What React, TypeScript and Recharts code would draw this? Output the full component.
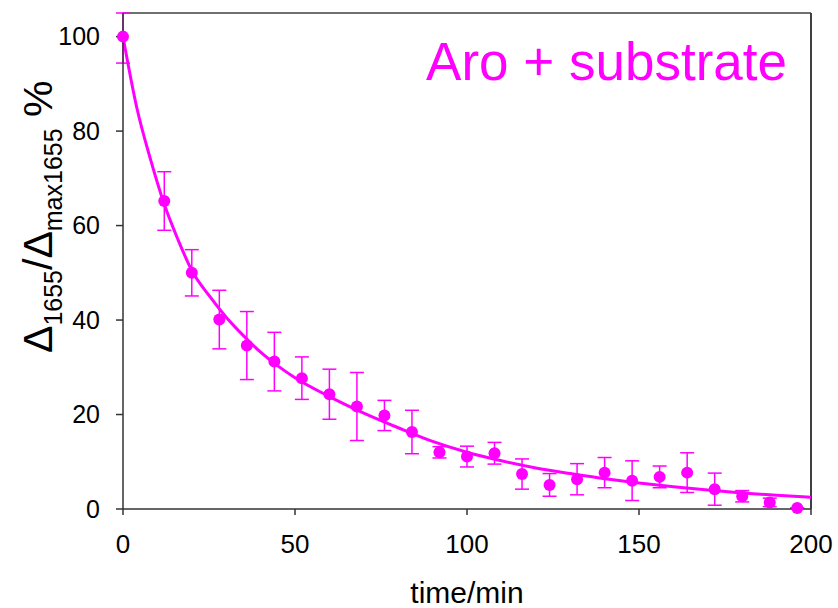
import {
  ComposedChart,
  Line,
  Scatter,
  ErrorBar,
  XAxis,
  YAxis,
  ReferenceLine,
} from "recharts";

// measured points (time in min, signal in %)
const times = [0, 12, 20, 28, 36, 44, 52, 60, 68, 76, 84, 92, 100, 108, 116, 124, 132, 140, 148, 156, 164, 172, 180, 188, 196];
const values = [100, 65.2, 50.0, 40.1, 34.6, 31.2, 27.7, 24.3, 21.7, 19.8, 16.3, 12.0, 11.1, 11.8, 7.4, 5.1, 6.3, 7.7, 6.0, 6.8, 7.7, 4.2, 2.7, 1.4, 0.2];
const errors = [5.6, 6.2, 4.9, 6.2, 7.2, 6.2, 4.5, 5.3, 7.2, 3.2, 4.6, 1.2, 2.2, 2.3, 3.2, 2.4, 3.3, 3.2, 4.2, 2.3, 4.2, 3.4, 1.2, 0.9, 0];

// fitted decay curve
const fitTimes = [0, 4, 8, 12, 16, 20, 25, 30, 35, 40, 45, 50, 60, 70, 80, 90, 100, 110, 120, 130, 140, 150, 160, 170, 180, 190, 200];
const fitValues = [100, 85, 74, 64.5, 57, 50.5, 45.2, 40.6, 36.7, 33.2, 30.3, 27.8, 23.8, 20.3, 17.2, 14.3, 12.0, 10.2, 8.7, 7.5, 6.4, 5.5, 4.7, 4.0, 3.4, 2.9, 2.5];

const xTicks = [0, 50, 100, 150, 200];
const yTicks = [0, 20, 40, 60, 80, 100];
const Y_MAX = 105;

const MAGENTA = "#ff00ff";
const AXIS = "#333333";
const FONT = "'Liberation Sans', Arial, sans-serif";

// upper whisker stops at the frame, like the original
const points = times.map((t, i) => ({
  t,
  v: values[i],
  err: [errors[i], Math.min(errors[i], Y_MAX - values[i])],
}));
const fit = fitTimes.map((t, i) => ({ t, fit: fitValues[i] }));

function Titles() {
  return (
    <g fontFamily={FONT}>
      <text
        transform="translate(52,353) rotate(-90)"
        fontSize={41}
        fill="#000"
      >
        Δ<tspan fontSize={25} dy={10}>1655</tspan>
        <tspan dy={-10}>/Δ</tspan>
        <tspan fontSize={25} dy={10}>max1655</tspan>
        <tspan dy={-10}> %</tspan>
      </text>
      <text x={787} y={80} fontSize={53} fill={MAGENTA} textAnchor="end">
        Aro + substrate
      </text>
    </g>
  );
}

function XTitle() {
  return (
    <text x={467} y={603} fontSize={30} fontFamily={FONT} textAnchor="middle" fill="#000">
      time/min
    </text>
  );
}

export default function App() {
  return (
    <div style={{ position: "absolute", left: 0, top: 0, background: "#fff" }}>
      <ComposedChart
        width={838}
        height={608}
        margin={{ top: 13, right: 27, left: 63, bottom: 39 }}
      >
        <XAxis
          type="number"
          dataKey="t"
          domain={[0, 200]}
          ticks={xTicks}
          height={60}
          tickSize={6}
          tickMargin={20}
          stroke={AXIS}
          strokeWidth={1.5}
          tick={{ fill: "#000", fontSize: 26, fontFamily: FONT }}
          label={<XTitle />}
        />
        <YAxis
          type="number"
          domain={[0, Y_MAX]}
          ticks={yTicks}
          width={60}
          tickSize={7}
          tickMargin={16}
          stroke={AXIS}
          strokeWidth={1.5}
          tick={{ fill: "#000", fontSize: 25, fontFamily: FONT }}
          label={<Titles />}
        />
        <ReferenceLine y={Y_MAX} stroke="#404040" strokeWidth={1.5} />
        <ReferenceLine x={200} stroke="#404040" strokeWidth={2} />
        <Line
          data={fit}
          dataKey="fit"
          type="monotone"
          stroke={MAGENTA}
          strokeWidth={3}
          dot={false}
          isAnimationActive={false}
        />
        <Scatter
          data={points}
          dataKey="v"
          fill={MAGENTA}
          isAnimationActive={false}
          shape={(p: any) => <circle cx={p.cx} cy={p.cy} r={6} fill={MAGENTA} />}
        >
          <ErrorBar
            dataKey="err"
            direction="y"
            width={7}
            stroke={MAGENTA}
            strokeWidth={1.5}
          />
        </Scatter>
      </ComposedChart>
    </div>
  );
}
